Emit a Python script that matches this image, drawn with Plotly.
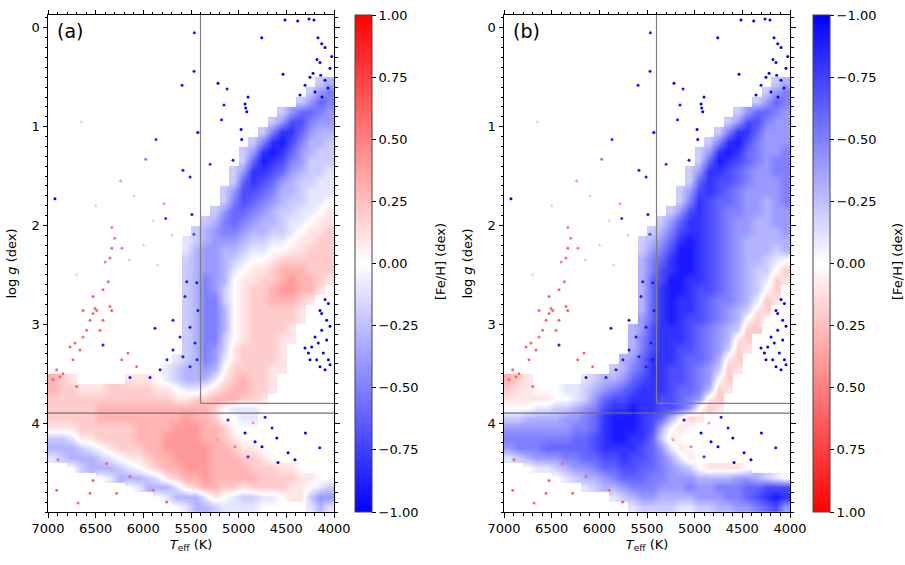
"""
Kiel diagram (Teff vs log g) coloured by [Fe/H], two panels
"""
import plotly.graph_objects as go

# bin centres of the [Fe/H] maps
teff_bins = [6950, 6850, 6750, 6650, 6550, 6450, 6350, 6250, 6150, 6050,
             5950, 5850, 5750, 5650, 5550, 5450, 5350, 5250, 5150, 5050,
             4950, 4850, 4750, 4650, 4550, 4450, 4350, 4250, 4150, 4050]
logg_bins = [0.05, 0.15, 0.25, 0.35, 0.45, 0.55, 0.65, 0.75, 0.85, 0.95,
             1.05, 1.15, 1.25, 1.35, 1.45, 1.55, 1.65, 1.75, 1.85, 1.95,
             2.05, 2.15, 2.25, 2.35, 2.45, 2.55, 2.65, 2.75, 2.85, 2.95,
             3.05, 3.15, 3.25, 3.35, 3.45, 3.55, 3.65, 3.75, 3.85, 3.95,
             4.05, 4.15, 4.25, 4.35, 4.45, 4.55, 4.65, 4.75, 4.85]

# [Fe/H] per bin: 'a' = -1.0 ... 'k' = 0.0 ... 'u' = +1.0, '.' = no stars
feh_map_a = [
    "..............................",
    "..............................",
    "..............................",
    "..............................",
    "..............................",
    "............................ih",
    "...........................igf",
    "..........................igef",
    "........................igeefg",
    ".......................igddfgg",
    "......................ifcceghh",
    ".....................ifcbdfhhi",
    "....................igcbceghii",
    "....................iebcdfgiii",
    "...................igccdeghiij",
    "...................iecdeghiijj",
    "..................igddefhhijjj",
    "..................ifdefghiijjk",
    ".................igeefghiijjkl",
    "................ihfefghhijjkll",
    "...............ihgffghhiijkllm",
    "..............jihggghiijjkllmm",
    "..............jhgghhijjkkllmmm",
    "..............ihgghijkklmmmmmm",
    "..............ihgghjkllmnnnmmm",
    "..............ihfghkllmmnonnml",
    "..............ihfgiklmmnoonnl.",
    "..............ihffiklmmnnnml..",
    "..............ihffhklmmmmml...",
    "..............ihffhklmmmmml...",
    "..............ihffhklmmmml....",
    "..............ihffiklmmmll....",
    "..............ihfgilmmmml.....",
    ".............jihfgjlmmmml.....",
    "...........kjihhghkmmmmll.....",
    "nml.....lllkjihhhjlmnmml......",
    "nmmlllmmmmmllkjjklmnnmml......",
    "mmmmmmmmmmmmmllmmnnnmml.......",
    "mmmmmnnnnnnnnnnnnmkjjjk.......",
    "mmmmmnnnnnnnnnonnmkkjj........",
    "lllmmmmmmnnnnooonnmkkk........",
    "iijllmmmmnnnoooonnmlkk........",
    "hhhijklmmmnnooooonnmllk.......",
    "jihhhijkllmnnoooonnnmmlk......",
    "..kihhhijklmnnooonnnnmmmllk...",
    ".....kjhhhijlmnnonnnnnmmmmllkk",
    "........kjhhhjlmnnmmlmmmmllkji",
    "...........kjhhhjlkjiijjklligg",
    ".............kjhhijjjjkk...jhj",
]

feh_map_b = [
    "..............................",
    "..............................",
    "..............................",
    "..............................",
    "..............................",
    "............................ih",
    "...........................igf",
    "..........................igef",
    "........................igeefg",
    ".......................igddfgg",
    "......................ifcceggg",
    ".....................ifcbdfggg",
    "....................igcbcefggf",
    "....................iebcdefgff",
    "...................igccdefggff",
    "...................iecddefgggf",
    "..................igdcdefggggf",
    "..................ifcdeefgghgf",
    ".................igdcdeffgghgg",
    "................igeccdefgghhgg",
    "...............ihfdccdefgghhhg",
    "..............ihgecbcdefghhhhh",
    "..............igfdbbcdefghhhih",
    "..............hfecbbcdefghhijk",
    "..............hfdcbbcdefghiikm",
    "..............hedbbccdefghijml",
    "..............hecbbcddefghikm.",
    "..............hecbccdeffghjml.",
    "..............hecbccdefghilm..",
    "..............gecbcddefghkmk..",
    ".............hgdcccdefghimm...",
    ".............hfdcccdefghlm....",
    ".............hfdccddefgiml....",
    "............hgecccdeefhlm.....",
    "...........ihfeccddefgiml.....",
    "nml.....jihhgedccddefgkm......",
    "mllkkkjjihgfedcccdeefhml......",
    "lllllkkjigeddcccddefglm.......",
    "kkkjjiihgfdccbccddegkml.......",
    "iihhhhggfecbbbcdehkml.........",
    "gggggggffecbbbcdhklk..........",
    "fffffffeedcbbcceilk...........",
    "gfffeeeeedccccdegjlk..........",
    "jihgggffeeddcddefhjlk.........",
    "..kjjihggfeeddeefghikllllk....",
    ".....kjihhgfeeeffggghhhhgghijk",
    "........jihhgfffgggfggfffeeddd",
    "...........jihgghhhhgggffedcbc",
    ".............jiiiijjiihhggfedg",
]

# isolated stars (same in both panels)
sparse_teff = [5465, 5468, 5594, 5430, 5867, 5975, 5584, 5510, 6927, 5765, 5490, 5470,
               6237, 5783, 6330, 6300, 6330, 6225, 6350, 6400, 6650, 6100, 5900, 6000,
               6500, 5700, 6150, 5850, 6700,
               4514, 4381, 4262, 4210, 4758, 4168, 4129, 4094, 4024, 4535, 5217, 5122,
               5154, 5180, 4933, 4926, 4915, 4902, 4975, 4968, 5059, 5300, 5427,
               4178, 4147, 4220, 4252, 4140, 4094, 4042, 4304, 4063, 4199, 4357, 4126,
               4147, 4094, 4059, 4042, 4129, 4165, 4077, 4112, 4059, 4147, 4094, 4234,
               4269, 4182, 4042, 4077, 4304, 4252, 4199, 4129,
               5112, 4828, 4650, 4482, 5038, 4933, 4723, 4587, 4409, 4902, 5227, 4755,
               4300, 4150, 4600, 4850,
               5545, 5440, 5689, 5878, 5615, 5510, 5458, 5689, 5584, 5752, 5437, 5510,
               5930, 6140, 5825, 5427, 5563, 6423,
               6909, 6874, 6948, 6843, 6738, 6769, 6717, 6664, 6633, 6594, 6559, 6528,
               6507, 6489, 6455, 6423, 6350, 6332, 6423, 6367, 6528, 6633, 6227, 6161,
               6070, 6699, 6895, 6528, 6909, 6685, 6280, 5899, 6140, 6385, 6559, 5755]
sparse_logg = [0.05, 0.44, 0.58, 1.06, 1.13, 1.33, 1.44, 1.51, 1.73, 1.93, 1.89, 2.09,
               1.55, 1.78, 2.02, 2.13, 2.23, 2.23, 2.33, 2.37, 0.95, 1.70, 1.95, 2.20,
               1.80, 2.10, 2.35, 2.40, 2.50,
               -0.08, -0.07, -0.09, -0.08, 0.10, 0.10, 0.16, 0.20, 0.29, 0.47, 0.56, 0.62,
               0.78, 0.93, 0.77, 0.81, 0.85, 0.70, 1.03, 1.13, 1.34, 1.38, 1.06,
               0.32, 0.35, 0.46, 0.50, 0.48, 0.53, 0.41, 0.58, 0.61, 0.65, 0.68, 0.70,
               2.86, 2.75, 2.79, 3.02, 3.06, 3.19, 3.16, 3.29, 3.36, 3.43, 3.46, 3.23,
               3.29, 3.36, 3.41, 2.96, 3.24, 3.36, 3.13, 2.89,
               3.97, 4.19, 4.05, 4.30, 4.24, 4.10, 3.94, 4.40, 4.37, 4.34, 4.17, 4.24,
               4.10, 4.25, 4.15, 4.00,
               2.57, 2.58, 2.96, 3.04, 3.13, 3.03, 3.19, 3.26, 3.33, 3.36, 3.36, 3.43,
               3.54, 3.54, 3.46, 2.86, 2.72, 3.21,
               3.46, 3.53, 3.56, 3.50, 3.36, 3.23, 3.19, 3.26, 3.13, 3.06, 2.96, 2.89,
               2.84, 2.86, 3.06, 2.96, 2.82, 2.86, 2.65, 2.57, 2.72, 2.86, 3.36, 3.29,
               3.43, 3.63, 4.37, 4.58, 4.68, 4.81, 4.71, 4.68, 4.54, 4.41, 4.71, 4.80]
sparse_feh = [-0.9, -0.9, -0.9, -0.8, -0.8, -0.5, -0.9, -0.9, -1.0, -0.8, -0.9, -0.7,
              0.4, 0.4, 0.5, 0.5, 0.6, 0.5, 0.6, 0.5, 0.2, 0.2, 0.2, 0.2,
              0.2, 0.2, 0.25, 0.2, 0.2,
              -1.0, -1.0, -1.0, -1.0, -1.0, -1.0, -1.0, -1.0, -1.0, -1.0, -1.0, -0.9,
              -0.9, -0.9, -1.0, -1.0, -1.0, -1.0, -1.0, -1.0, -0.9, -0.8, -0.9,
              -1.0, -1.0, -1.0, -1.0, -1.0, -1.0, -1.0, -1.0, -1.0, -1.0, -1.0, -1.0,
              -1.0, -1.0, -1.0, -1.0, -1.0, -1.0, -1.0, -1.0, -1.0, -1.0, -1.0, -1.0,
              -1.0, -1.0, -1.0, -1.0, -1.0, -1.0, -1.0, -1.0,
              -0.9, -1.0, -0.9, -1.0, 0.5, -1.0, -0.9, -1.0, -1.0, -0.8, 0.4, -1.0,
              -1.0, -0.9, -1.0, 0.4,
              -0.9, -0.9, -0.9, -0.9, -0.9, -0.9, -0.9, -0.9, -0.9, -0.9, -0.9, -0.9,
              -0.9, -0.9, -0.9, -0.9, -0.9, -0.9,
              0.6, 0.6, 0.6, 0.6, 0.6, 0.6, 0.6, 0.6, 0.6, 0.6, 0.6, 0.6,
              0.6, 0.6, 0.6, 0.6, 0.6, 0.6, 0.6, 0.6, 0.6, 0.6, 0.6, 0.6,
              0.6, 0.6, 0.6, 0.6, 0.6, 0.6, 0.6, 0.6, 0.6, 0.6, 0.6, 0.6]

xticks = [7000, 6500, 6000, 5500, 5000, 4500, 4000]
yticks = [0, 1, 2, 3, 4]
cbar_vals = [1.0, 0.75, 0.5, 0.25, 0.0, -0.25, -0.5, -0.75, -1.0]
cbar_text = ['1.00', '0.75', '0.50', '0.25', '0.00', '−0.25', '−0.50', '−0.75', '−1.00']


def decode(rows):
    out = []
    for row in rows:
        assert len(row) == len(teff_bins), row
        out.append([None if ch == '.' else (ord(ch) - ord('k')) / 10 for ch in row])
    return out


za = decode(feh_map_a)
zb = decode(feh_map_b)
# panel (b) has its colour bar flipped: plot -[Fe/H] with the reversed map
zb_neg = [[None if v is None else -v for v in row] for row in zb]
sparse_neg = [-v for v in sparse_feh]

bwr = [[0, 'rgb(0,0,255)'], [0.5, 'rgb(255,255,255)'], [1, 'rgb(255,0,0)']]
bwr_r = [[0, 'rgb(255,0,0)'], [0.5, 'rgb(255,255,255)'], [1, 'rgb(0,0,255)']]

FONT = 'DejaVu Sans'
W, H = 905, 565

fig = go.Figure()
fig.add_trace(go.Heatmap(x=teff_bins, y=logg_bins, z=za, coloraxis='coloraxis',
                         zsmooth='best', hoverinfo='skip', xaxis='x', yaxis='y'))
fig.add_trace(go.Scatter(x=sparse_teff, y=sparse_logg, mode='markers', xaxis='x', yaxis='y',
                         marker=dict(size=3, color=sparse_feh, coloraxis='coloraxis'),
                         showlegend=False, hoverinfo='skip'))
fig.add_trace(go.Heatmap(x=teff_bins, y=logg_bins, z=zb_neg, coloraxis='coloraxis2',
                         zsmooth='best', hoverinfo='skip', xaxis='x2', yaxis='y2'))
fig.add_trace(go.Scatter(x=sparse_teff, y=sparse_logg, mode='markers', xaxis='x2', yaxis='y2',
                         marker=dict(size=3, color=sparse_neg, coloraxis='coloraxis2'),
                         showlegend=False, hoverinfo='skip'))

axis_common = dict(showline=True, linecolor='black', linewidth=1, mirror='ticks',
                   ticks='outside', ticklen=4.5, tickwidth=1, tickcolor='black',
                   showgrid=False, zeroline=False, automargin=False,
                   tickfont=dict(family=FONT, size=13, color='black'))
xaxis = dict(axis_common, range=[7000, 4000], tickvals=xticks,
             minor=dict(dtick=100, tick0=4000, ticks='outside', ticklen=2.5,
                        tickcolor='black', showgrid=False),
             title=dict(text='<i>T</i><sub>eff</sub> (K)', standoff=4,
                        font=dict(family=FONT, size=13, color='black')))
yaxis = dict(axis_common, range=[4.9, -0.13], tickvals=yticks,
             minor=dict(dtick=0.1, tick0=0, ticks='outside', ticklen=2.5,
                        tickcolor='black', showgrid=False),
             title=dict(text='log <i>g</i> (dex)', standoff=12,
                        font=dict(family=FONT, size=13, color='black')))

ydom = [1 - 512 / H, 1 - 15 / H]


def cbar(x0, vals, text):
    return dict(x=x0, xanchor='left', y=ydom[0], yanchor='bottom', len=ydom[1] - ydom[0],
                lenmode='fraction', thickness=17, xpad=0, ypad=0,
                outlinewidth=1, outlinecolor='#444', ticks='outside', ticklen=4,
                tickcolor='black', tickvals=vals, ticktext=text,
                tickfont=dict(family=FONT, size=13, color='black'))


fig.update_layout(
    width=W, height=H,
    margin=dict(l=0, r=0, t=0, b=0, autoexpand=False),
    paper_bgcolor='white', plot_bgcolor='white',
    showlegend=False,
    xaxis=dict(xaxis, domain=[48 / W, 334 / W], anchor='y'),
    yaxis=dict(yaxis, domain=ydom, anchor='x'),
    xaxis2=dict(xaxis, domain=[504 / W, 790 / W], anchor='y2'),
    yaxis2=dict(yaxis, domain=ydom, anchor='x2'),
    coloraxis=dict(colorscale=bwr, cmin=-1, cmax=1,
                   colorbar=cbar(355 / W, cbar_vals, cbar_text)),
    coloraxis2=dict(colorscale=bwr_r, cmin=-1, cmax=1,
                    colorbar=cbar(813 / W, cbar_vals, cbar_text[::-1])),
)

# colour bar titles
for xpix in (440, 897):
    fig.add_annotation(x=xpix / W, y=1 - 262 / H, xref='paper', yref='paper',
                       text='[Fe/H] (dex)', textangle=-90, showarrow=False,
                       xanchor='center', yanchor='middle',
                       font=dict(family=FONT, size=13, color='black'))

# selection lines
for xr, yr in (('x', 'y'), ('x2', 'y2')):
    fig.add_shape(type='line', xref=xr, yref=yr, x0=5400, x1=5400, y0=-0.13, y1=3.8,
                  line=dict(color='rgb(128,128,128)', width=1.2))
    fig.add_shape(type='line', xref=xr, yref=yr, x0=5400, x1=4000, y0=3.8, y1=3.8,
                  line=dict(color='rgb(128,128,128)', width=1.2))
    fig.add_shape(type='line', xref=xr, yref=yr, x0=7000, x1=4000, y0=3.9, y1=3.9,
                  line=dict(color='rgba(110,110,110,0.7)', width=1.8))

for xr, yr, lab in (('x', 'y', '(a)'), ('x2', 'y2', '(b)')):
    fig.add_annotation(x=6930, y=0.03, xref=xr, yref=yr, text=lab, showarrow=False,
                       xanchor='left', yanchor='middle',
                       font=dict(family=FONT, size=19, color='black'))

fig.write_html("out.html", config={'displayModeBar': False},
               post_script="document.body.style.margin='0';")
